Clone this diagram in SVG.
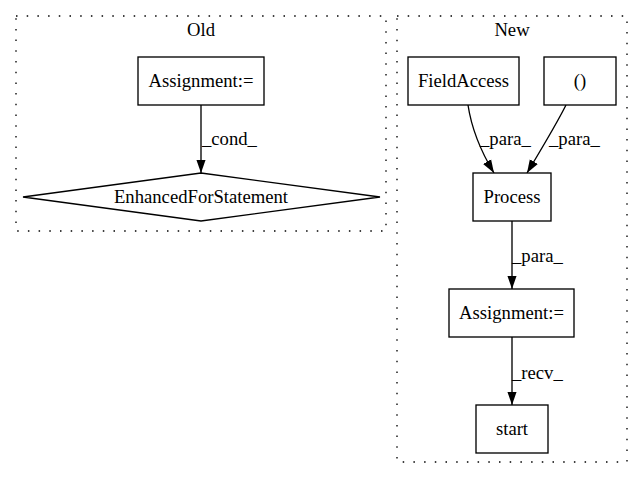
<svg xmlns="http://www.w3.org/2000/svg" width="643" height="480" viewBox="0 0 643 480">
<defs>
<marker id="arr" viewBox="0 0 13.3 10" refX="13.3" refY="5" markerWidth="13.3" markerHeight="10" markerUnits="userSpaceOnUse" orient="auto">
<path d="M0,0.35 L13.3,5 L0,9.65 Z" fill="#000"/>
</marker>
<style>
text{font-family:"Liberation Serif","Times New Roman",serif;font-size:18.67px;fill:#000}
.c{text-anchor:middle}
.n{fill:#fff;stroke:#000;stroke-width:1.33}
.cl{fill:none;stroke:#000;stroke-width:1.33;stroke-dasharray:1.5,9.2}
.e{fill:none;stroke:#000;stroke-width:1.33;marker-end:url(#arr)}
</style>
</defs>
<rect width="643" height="480" fill="#fff"/>
<g id="cluster_old">
<rect class="cl" x="16" y="16" width="370" height="215"/>
<text class="c" x="201" y="36">Old</text>
</g>
<g id="cluster_new">
<rect class="cl" x="397" y="16" width="230" height="446"/>
<text class="c" x="512" y="36">New</text>
</g>
<g id="connectors">
<path class="e" d="M201,105 L201,173"/>
<text x="202" y="145">_cond_</text>
<path class="e" d="M468,105 C471,125 480,150 494,173"/>
<text x="480" y="145">_para_</text>
<path class="e" d="M566,105 C556,125 542,148 527,173"/>
<text x="549" y="145">_para_</text>
<path class="e" d="M512,221 L512,289"/>
<text x="512" y="262">_para_</text>
<path class="e" d="M512,337 L512,405"/>
<text x="512" y="379">_recv_</text>
</g>
<g id="old_assignment">
<rect class="n" x="138" y="57" width="126" height="48"/>
<text class="c" x="201" y="87">Assignment:=</text>
</g>
<g id="enhanced_for">
<polygon class="n" points="201,173 380,197 201,221 23,197"/>
<text class="c" x="201" y="203">EnhancedForStatement</text>
</g>
<g id="field_access">
<rect class="n" x="408" y="57" width="111" height="48"/>
<text class="c" x="463.5" y="87">FieldAccess</text>
</g>
<g id="paren">
<rect class="n" x="544" y="57" width="72" height="48"/>
<text class="c" x="580" y="87">()</text>
</g>
<g id="process">
<rect class="n" x="473" y="173" width="78" height="48"/>
<text class="c" x="512" y="203">Process</text>
</g>
<g id="new_assignment">
<rect class="n" x="449" y="289" width="125" height="48"/>
<text class="c" x="511.5" y="319">Assignment:=</text>
</g>
<g id="start">
<rect class="n" x="476" y="405" width="72" height="48"/>
<text class="c" x="512" y="435">start</text>
</g>
</svg>
